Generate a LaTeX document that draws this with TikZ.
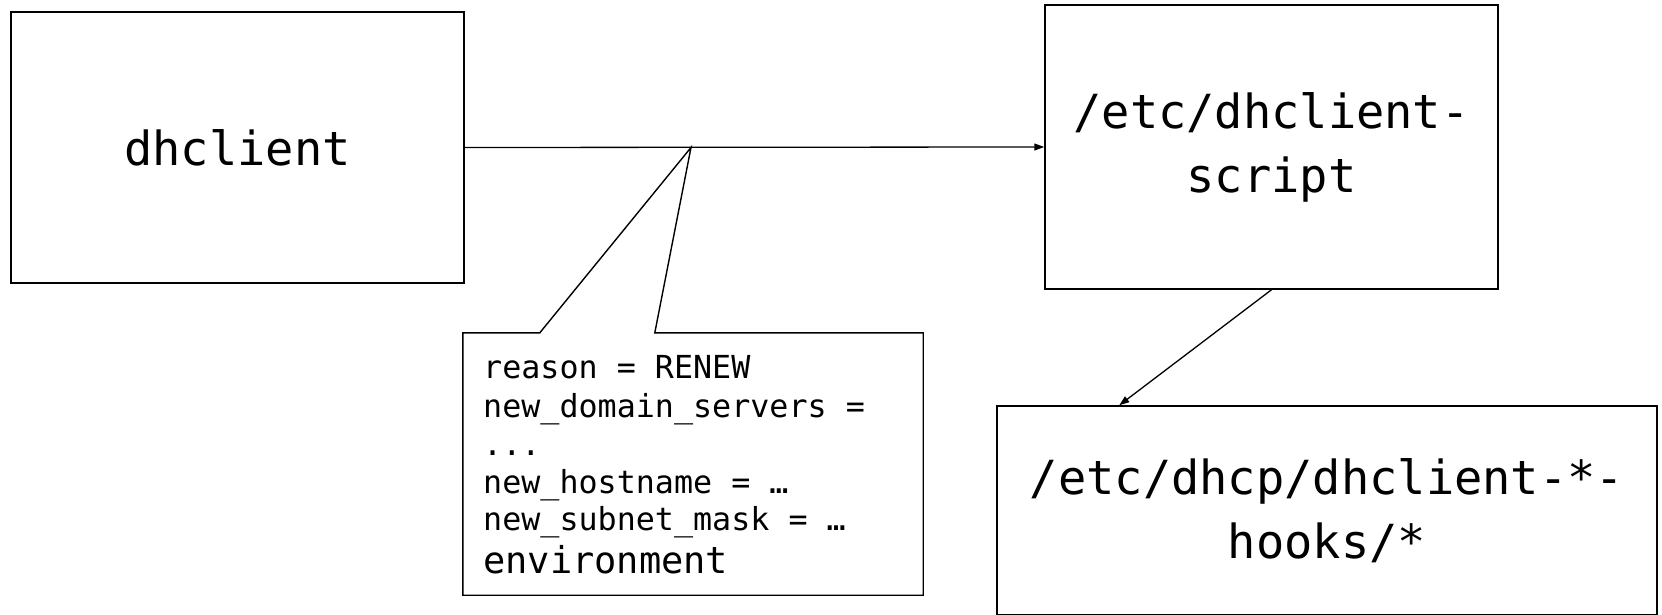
\documentclass[tikz,border=0pt]{standalone}
\usepackage{fontspec}
\setmainfont{DejaVu Sans Mono}
\usetikzlibrary{arrows.meta}
\begin{document}
\begin{tikzpicture}[x=1pt,y=-1pt,
  box/.style={draw,line width=1.5pt,inner sep=0pt,align=center,font=\fontsize{47}{57}\selectfont},
  conn/.style={line width=1.3pt,-{Triangle[length=10pt,width=7pt]}},
  edge/.style={line width=1.4pt,line join=miter},
  small/.style={anchor=base west,inner sep=0pt,font=\fontsize{31.7}{38}\selectfont},
  big/.style={anchor=base west,inner sep=0pt,font=\fontsize{37}{43}\selectfont}]
\useasboundingbox (0,0) rectangle (1662,615);
\node[box,minimum width=453pt,minimum height=271pt] (b1) at (237.5,147.5) {dhclient};
\node[box,minimum width=453pt,minimum height=284pt] (b2) at (1271.5,147) {/etc/dhclient-\\[7pt]script};
\node[box,minimum width=660pt,minimum height=209pt] (b3) at (1327,510.5) {/etc/dhcp/dhclient-*-\\[7pt]hooks/*};
\draw[conn] (b1.east) -- (b2.west);
\coordinate (tip) at (691,147.5);
\draw[conn] (b2.south) -- ([xshift=123pt]b3.north west);
\node[inner sep=0pt,minimum width=460pt,minimum height=262pt] (cb) at (693,464) {};
\draw[edge] ([xshift=77pt]cb.north west) -- (tip) -- ([xshift=192pt]cb.north west)
  -- (cb.north east) -- (cb.south east) -- (cb.south west) -- (cb.north west) -- cycle;
\node[small] (l1) at (483,378) {reason = RENEW};
\node[small] (l2) at (483,417) {new\_domain\_servers =};
\node[small] (l3) at (483,455) {...};
\node[small] (l4) at (483,493) {new\_hostname = …};
\node[small] (l5) at (483,530) {new\_subnet\_mask = …};
\node[big] (l6) at (483,573) {environment};
\end{tikzpicture}
\end{document}
